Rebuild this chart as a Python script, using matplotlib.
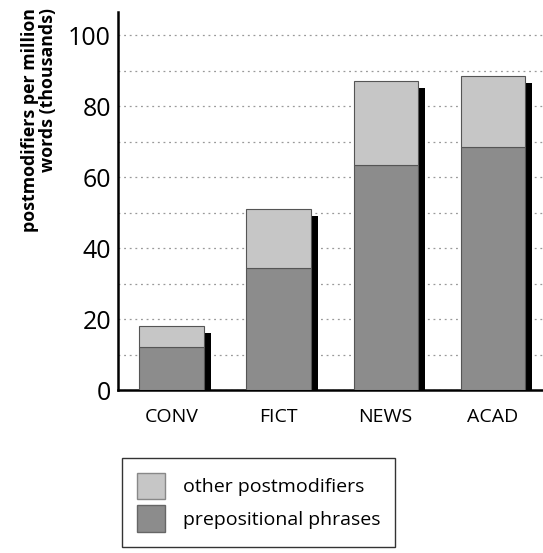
import matplotlib
matplotlib.use("Agg")
import matplotlib.pyplot as plt
from matplotlib.patches import Patch
import numpy as np

plt.rcParams["font.family"] = ["Open Sans", "DejaVu Sans"]

# frequencies per million words (thousands)
registers = ["CONV", "FICT", "NEWS", "ACAD"]
prep_phrases = [12, 34.5, 63.5, 68.5]
other_postmod = [6, 16.5, 23.5, 20]

light = "#c6c6c6"
dark = "#8c8c8c"

fig = plt.figure(figsize=(5.43, 5.53), dpi=100)
ax = fig.add_axes([118 / 543, 163 / 553, 1 - 118 / 543, 0.978 - 163 / 553])

x = np.arange(len(registers))
width = 0.6
totals = np.array(prep_phrases) + np.array(other_postmod)

# drop shadow behind each stacked bar
ax.bar(x + 0.066, totals - 2.0, width, color="black", zorder=2)
ax.bar(x, prep_phrases, width, color=dark, edgecolor="#555555", linewidth=0.8, zorder=3)
ax.bar(x, other_postmod, width, bottom=prep_phrases, color=light,
       edgecolor="#555555", linewidth=0.8, zorder=3)

ax.set_xlim(-0.5, 3.47)
ax.set_ylim(0, 106.5)
ax.set_yticks([0, 20, 40, 60, 80, 100])
ax.set_yticks(np.arange(10, 101, 10), minor=True)
ax.grid(axis="y", which="both", linestyle=(0, (1.5, 3)), color="#999999", linewidth=0.9, zorder=0)
ax.tick_params(axis="y", which="both", length=0, labelsize=18, pad=5)
ax.set_xticks(x)
ax.set_xticklabels(registers)
ax.tick_params(axis="x", length=0, labelsize=14, pad=13)

for side in ["top", "right"]:
    ax.spines[side].set_visible(False)
ax.spines["left"].set_linewidth(1.8)
ax.spines["bottom"].set_linewidth(1.8)

fig.text(0.072, 1 - 8 / 553, "postmodifiers per million\nwords (thousands)",
         rotation=90, ha="center", va="top", fontsize=12.8, fontweight="bold",
         multialignment="right", linespacing=1.05)

handles = [Patch(facecolor=light, edgecolor="#888888"),
           Patch(facecolor=dark, edgecolor="#666666")]
leg = fig.legend(handles, ["other postmodifiers", "prepositional phrases"],
                 loc="upper left", bbox_to_anchor=(122 / 543, 1 - 458 / 553),
                 fontsize=14, frameon=True, fancybox=False, edgecolor="black",
                 handlelength=1.45, handleheight=1.75, handletextpad=0.95,
                 labelspacing=0.3, borderpad=0.75, borderaxespad=0)
leg.get_frame().set_linewidth(1.0)

fig.savefig("out.png", dpi=100)
